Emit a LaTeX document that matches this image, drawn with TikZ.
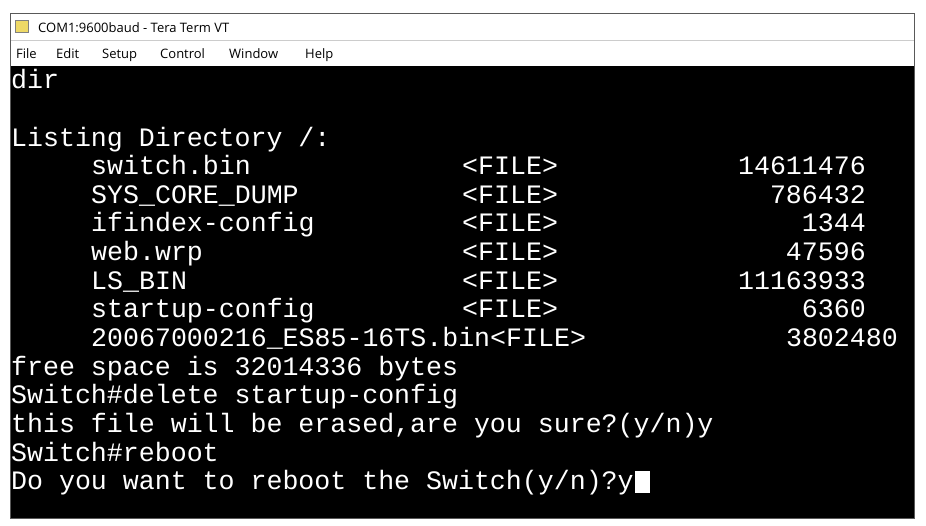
\documentclass[tikz,border=0pt]{standalone}
\usepackage{fontspec}
\setmainfont{Open Sans}
\newfontfamily\term{Liberation Mono}
\begin{document}
\begin{tikzpicture}[x=1pt,y=-1pt,
  tl/.style={anchor=base west,inner sep=0pt,text=white,font=\term\fontsize{26.6}{28}\selectfont},
  tr/.style={anchor=base east,inner sep=0pt,text=white,font=\term\fontsize{26.6}{28}\selectfont},
  ui/.style={anchor=base west,inner sep=0pt,font=\fontsize{13}{15}\selectfont}]
\useasboundingbox (0,0) rectangle (926,525);
\fill[white] (0,0) rectangle (926,525);
\draw[gray!70!black,line width=1pt] (10,13) rectangle (914,518);
\fill[black] (10.5,66) rectangle (913.5,517.5);
\draw[gray!40] (10.5,40.5) -- (913.5,40.5);
% icon
\node[inner sep=0pt,minimum width=13pt,minimum height=12pt,fill=yellow!60!brown!70,draw=gray] (ic) at (22,26) {};
\node[ui] (title) at (38,32) {COM1:9600baud - Tera Term VT};
\node[ui] (m1) at (16,58) {File};
\node[ui] (m2) at (56,58) {Edit};
\node[ui] (m3) at (102,58) {Setup};
\node[ui] (m4) at (160,58) {Control};
\node[ui] (m5) at (229,58) {Window};
\node[ui] (m6) at (305,58) {Help};
% terminal
\node[tl] (l1) at (11,88) {dir};
\node[tl] (l2) at (11,146) {Listing Directory /:};
\foreach \n/\t/\v [count=\i] in {switch.bin/14611476,SYS\_CORE\_DUMP/786432,ifindex-config/1344,web.wrp/47596,LS\_BIN/11163933,startup-config/6360}{
  \node[tl] (f\i) at (91,{146+28.6*\i}) {\n};
  \node[tl] (k\i) at (462,{146+28.6*\i}) {<FILE>};
  \node[tr] (v\i) at (866,{146+28.6*\i}) {\t};
}
\node[tl] (f7) at (91,346) {20067000216\_ES85-16TS.bin<FILE>};
\node[tr] (v7) at (898,346) {3802480};
\node[tl] (l3) at (11,375) {free space is 32014336 bytes};
\node[tl] (l4) at (11,403.5) {Switch\#delete startup-config};
\node[tl] (l5) at (11,432) {this file will be erased,are you sure?(y/n)y};
\node[tl] (l6) at (11,461) {Switch\#reboot};
\node[tl] (l7) at (11,489.5) {Do you want to reboot the Switch(y/n)?y};
\fill[white] (l7.base east) ++(1,-19) rectangle ++(15,22);
\end{tikzpicture}
\end{document}
